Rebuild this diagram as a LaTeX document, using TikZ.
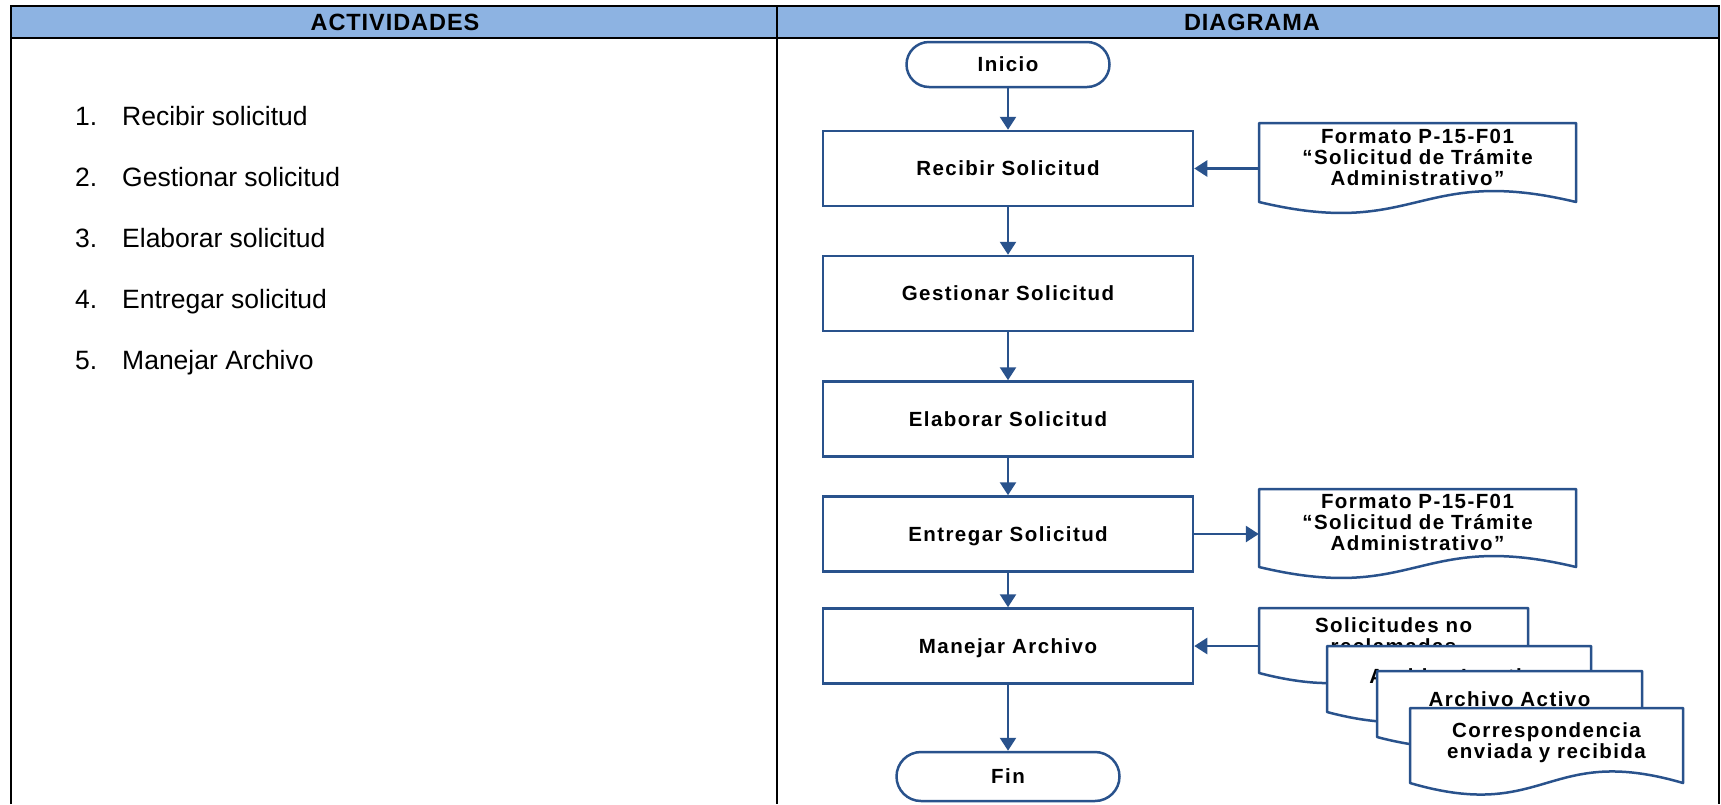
\documentclass[tikz,border=0pt]{standalone}
\usepackage{fontspec}
\setmainfont{Liberation Sans}
\newfontfamily\headfont{Liberation Sans}[LetterSpace=4]
\newfontfamily\flowfont{Liberation Sans}[LetterSpace=7]
\usetikzlibrary{arrows.meta}
\definecolor{headblue}{RGB}{141,179,226}
\definecolor{flowblue}{RGB}{41,82,140}
\newcommand\flowtext{\flowfont\bfseries\fontsize{20.5}{21}\selectfont}
\newcommand\itemtext{\fontsize{26.5}{30}\selectfont}
\newcommand\headtext{\headfont\bfseries\fontsize{23.5}{27}\selectfont}
% document symbol: rectangle with a wavy lower edge (left, top, right, bottom, wave)
\newcommand\wavedoc[5]{%
  \filldraw[docline] (#1,#2) -- (#3,#2) -- (#3,#4)
    .. controls ({(#1+#3)/2},{#4-#5}) and ({(#1+#3)/2},{#4+#5}) .. (#1,#4) -- cycle;}
\begin{document}
\begin{tikzpicture}[x=1pt,y=-1pt,
  grid/.style={draw=black,line width=2.4pt},
  head/.style={inner sep=0pt,font=\headtext,text height=16.8pt,text depth=0pt},
  itemnode/.style={anchor=base west,inner sep=0pt,font=\itemtext},
  proc/.style={draw=flowblue,line width=2.5pt,fill=white,minimum width=370pt,
    minimum height=75pt,inner sep=0pt,font=\flowtext,text height=14.7pt,text depth=0pt},
  term/.style={draw=flowblue,line width=2.5pt,fill=white,inner sep=0pt,
    font=\flowtext,text height=14.7pt,text depth=0pt},
  docline/.style={draw=flowblue,line width=2.5pt,fill=white,line join=round},
  doctext/.style={inner sep=0pt,align=center,font=\flowtext},
  arr/.style={draw=flowblue,line width=2.6pt,-{Triangle[length=13pt,width=16pt]}}]
\useasboundingbox (0,0) rectangle (1721,804);

% table
\fill[headblue] (11,6) rectangle (1719,38);
\draw[grid] (11,804) -- (11,6) -- (1719,6) -- (1719,804);
\draw[grid] (11,38) -- (1719,38);
\draw[grid] (777,6) -- (777,804);
\node[head] (hact) at (395,22) {ACTIVIDADES};
\node[head] (hdia) at (1252,22) {DIAGRAMA};

% list of activities
\node[itemnode] (n1) at (75,125) {1.};
\node[itemnode] (a1) at (122,125) {Recibir solicitud};
\node[itemnode] (n2) at (75,186) {2.};
\node[itemnode] (a2) at (122,186) {Gestionar solicitud};
\node[itemnode] (n3) at (75,247) {3.};
\node[itemnode] (a3) at (122,247) {Elaborar solicitud};
\node[itemnode] (n4) at (75,308) {4.};
\node[itemnode] (a4) at (122,308) {Entregar solicitud};
\node[itemnode] (n5) at (75,369) {5.};
\node[itemnode] (a5) at (122,369) {Manejar Archivo};

% flowchart
\node[term,minimum width=203pt,minimum height=45pt,rounded corners=22.5pt] (ini) at (1008,64.5) {Inicio};
\node[proc] (rec) at (1008,168.5) {Recibir Solicitud};
\node[proc] (ges) at (1008,293.5) {Gestionar Solicitud};
\node[proc] (ela) at (1008,419) {Elaborar Solicitud};
\node[proc] (ent) at (1008,534) {Entregar Solicitud};
\node[proc] (man) at (1008,646) {Manejar Archivo};
\node[term,minimum width=223pt,minimum height=49pt,rounded corners=24.5pt] (fin) at (1008,776.5) {Fin};

% documents
\wavedoc{1259}{123}{1576}{202}{38}
\node[doctext,text width=317pt] (d1) at (1417.5,157) {Formato P-15-F01\\“Solicitud de Trámite\\Administrativo”};
\wavedoc{1259}{489}{1576}{567}{38}
\node[doctext,text width=317pt] (d2) at (1417.5,522) {Formato P-15-F01\\“Solicitud de Trámite\\Administrativo”};
\wavedoc{1259}{608}{1528}{673}{35}
\node[doctext,text width=269pt] (da) at (1393.5,636) {Solicitudes no\\reclamadas};
\wavedoc{1327}{646}{1591}{712}{35}
\node[doctext,text width=264pt] (db) at (1459,676) {Archivo Inactivo};
\wavedoc{1377}{671}{1642}{737}{35}
\node[doctext,text width=265pt] (dc) at (1509.5,699) {Archivo Activo};
\wavedoc{1410}{708}{1683}{783}{40}
\node[doctext,text width=273pt] (dd) at (1546.5,743) {Correspondencia\\enviada y recibida};

% connectors
\draw[arr] (ini) -- (rec);
\draw[arr] (rec) -- (ges);
\draw[arr] (ges) -- (ela);
\draw[arr] (ela) -- (ent);
\draw[arr] (ent) -- (man);
\draw[arr] (man) -- (fin);
\draw[arr] (d1.west |- rec.east) -- (rec.east);
\draw[arr] (ent.east) -- (ent.east -| d2.west);
\draw[arr] (da.west |- man.east) -- (man.east);
\end{tikzpicture}
\end{document}
